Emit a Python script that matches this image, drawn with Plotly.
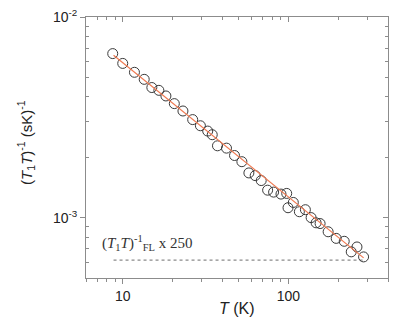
import plotly.graph_objects as go
import numpy as np

# Data
T_data = [8.70, 10.0, 11.77, 13.48, 14.99, 16.53, 18.23, 20.49, 23.10, 26.45,
          29.45, 32.6, 34.72, 37.34, 42.33, 47.33, 52.42, 57.8, 63.1, 68.6,
          75.0, 81.5, 90.3, 97.8, 99.6, 107.2, 116.6, 126.8, 137.3, 147.2,
          155.6, 174.0, 194.6, 217.6, 239.9, 259.8, 284.8]
rate_data = [6.57e-3, 5.87e-3, 5.30e-3, 4.89e-3, 4.45e-3, 4.31e-3, 4.04e-3, 3.70e-3, 3.40e-3, 3.08e-3,
             2.87e-3, 2.70e-3, 2.59e-3, 2.28e-3, 2.22e-3, 2.04e-3, 1.90e-3, 1.67e-3, 1.62e-3, 1.53e-3,
             1.37e-3, 1.34e-3, 1.31e-3, 1.32e-3, 1.12e-3, 1.19e-3, 1.07e-3, 1.095e-3, 1.00e-3, 9.42e-4,
             9.34e-4, 8.50e-4, 7.88e-4, 7.62e-4, 6.75e-4, 7.14e-4, 6.37e-4]

fit_T = [8.8, 285]
fit_rate = [6.45e-3, 6.3e-4]

fl_T = [8.8, 284]
fl_rate = [6.14e-4, 6.14e-4]

x_major = [10, 100]
x_minor = [6, 7, 8, 9, 20, 30, 40, 50, 60, 70, 80, 90, 200, 300, 400]
y_major = [1e-3, 1e-2]
y_major_text = ["10<sup>-3</sup>", "10<sup>-2</sup>"]
y_minor = [5e-4, 6e-4, 7e-4, 8e-4, 9e-4, 2e-3, 3e-3, 4e-3, 5e-3, 6e-3, 7e-3, 8e-3, 9e-3]

xr = [np.log10(6), np.log10(400)]
yr = [np.log10(5e-4), -2]

axis_col = "#8c8c8c"
font_fam = "Liberation Sans, Arial, sans-serif"

fig = go.Figure()
fig.add_trace(go.Scatter(x=fl_T, y=fl_rate, mode="lines",
                         line=dict(color="#8a8a8a", width=1.3, dash="3px,3px"),
                         showlegend=False, hoverinfo="skip"))
fig.add_trace(go.Scatter(x=T_data, y=rate_data, mode="markers",
                         marker=dict(symbol="circle-open", size=10, color="#3a3a3a",
                                     line=dict(width=1, color="#3a3a3a")),
                         showlegend=False))
fig.add_trace(go.Scatter(x=fit_T, y=fit_rate, mode="lines",
                         line=dict(color="#f07a52", width=1.2),
                         showlegend=False, hoverinfo="skip"))
fig.add_trace(go.Scatter(x=[], y=[], xaxis="x2", yaxis="y2", showlegend=False))

common = dict(showgrid=False, zeroline=False, showline=True, linecolor=axis_col,
              linewidth=1, tickcolor=axis_col, tickwidth=1, ticklabeloverflow="allow",
              tickfont=dict(family=font_fam, size=14, color="#222"))

fig.update_layout(
    width=395, height=328,
    margin=dict(l=86, r=7, t=14, b=50),
    paper_bgcolor="white", plot_bgcolor="white",
    xaxis=dict(type="log", range=xr, ticks="outside", ticklen=5,
               tickmode="array", tickvals=x_major, ticktext=["10", "100"],
               minor=dict(ticks="outside", ticklen=3, tickmode="array", tickvals=x_minor,
                          tickcolor=axis_col, showgrid=False),
               **common),
    xaxis2=dict(type="log", range=xr, overlaying="x", side="top", ticks="inside", ticklen=5,
                tickmode="array", tickvals=x_major, showticklabels=False,
                minor=dict(ticks="inside", ticklen=3, tickmode="array", tickvals=x_minor,
                           tickcolor=axis_col, showgrid=False),
                **common),
    yaxis=dict(type="log", range=yr, ticks="outside", ticklen=5,
               tickmode="array", tickvals=y_major, ticktext=y_major_text,
               minor=dict(ticks="inside", ticklen=3, tickmode="array", tickvals=y_minor,
                          tickcolor=axis_col, showgrid=False),
               **common),
    yaxis2=dict(type="log", range=yr, overlaying="y", side="right", ticks="inside", ticklen=5,
                tickmode="array", tickvals=y_major, showticklabels=False,
                minor=dict(ticks="inside", ticklen=3, tickmode="array", tickvals=y_minor,
                           tickcolor=axis_col, showgrid=False),
                **common),
)

fig.add_annotation(xref="paper", yref="paper", x=0.045, y=0.135, xanchor="left", yanchor="middle",
                   showarrow=False,
                   text="(<i>T</i><sub>1</sub><i>T</i>)<sup>-1</sup><sub>FL</sub> x 250",
                   font=dict(family="Liberation Serif, Times New Roman, serif", size=15, color="#333"))
fig.add_annotation(xref="paper", yref="paper", x=0.5, y=-0.117, xanchor="center", yanchor="middle",
                   showarrow=False, text="<i>T</i> (K)",
                   font=dict(family=font_fam, size=16, color="#222"))
fig.add_annotation(xref="paper", yref="paper", x=-0.2, y=0.52, xanchor="center", yanchor="middle",
                   showarrow=False, textangle=-90,
                   text="(<i>T</i><sub>1</sub><i>T</i>)<sup>-1</sup> (sK)<sup>-1</sup>",
                   font=dict(family=font_fam, size=15, color="#222"))

fig.write_html("out.html", config={"displayModeBar": False},
               post_script="document.body.style.margin='0px';")
